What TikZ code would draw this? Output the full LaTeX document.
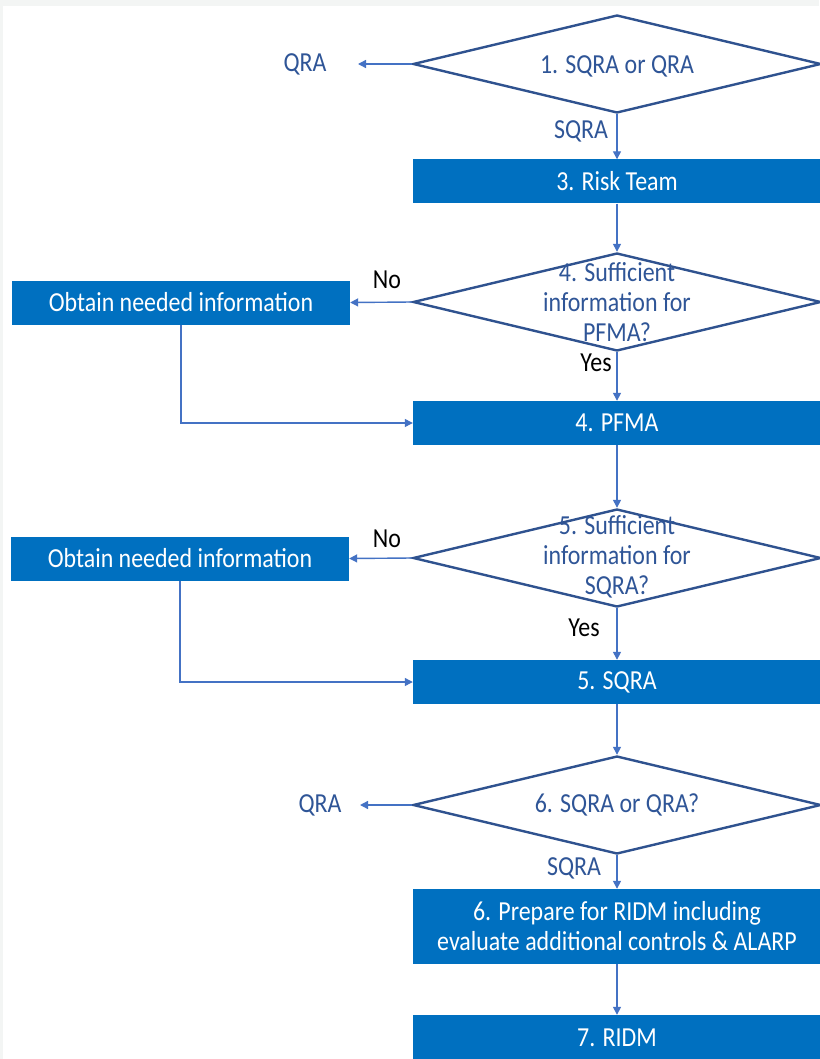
\documentclass[tikz,border=0pt]{standalone}
\usepackage{fontspec}
\setmainfont{Carlito}[FakeStretch=0.87]
\definecolor{main}{RGB}{0,112,192}
\definecolor{edge}{RGB}{47,82,143}
\definecolor{link}{RGB}{68,114,196}
\definecolor{ink}{RGB}{47,85,151}
\definecolor{frame}{RGB}{243,245,244}
\usetikzlibrary{
	arrows.meta,
	shapes.geometric
}
\newcommand{\fcfont}{\fontsize{27.5}{30}\selectfont}
\tikzset{
  % arrow
	fcra/.style      ={-{Triangle[length=8pt,width=8pt]}, draw=link, line width=1.4pt}, % right arrow
	fcline/.style    ={draw=link, line width=1.2pt},
  % node
	fcbox/.style     ={fill=main, text=white, minimum width=408pt, minimum height=44pt, inner sep=0pt, font=\fcfont},
	fcside/.style    ={fill=main, text=white, minimum width=338pt, minimum height=44pt, inner sep=0pt, font=\fcfont},
	fcdiam/.style    ={diamond, draw=edge, line width=2.4pt, fill=white, minimum width=408pt, minimum height=98pt, inner sep=0pt},
	fctext/.style    ={text=ink, align=center, font=\fcfont},
	fclabel/.style   ={text=ink, font=\fcfont},
	fcyn/.style      ={text=black, font=\fcfont}
}
\begin{document}
\begin{tikzpicture}[x=1pt,y=-1pt]
	\useasboundingbox (0,0) rectangle (819,1059);
	\fill[frame] (0,0) rectangle (819,1059);
	\fill[white] (3,6) rectangle (819,1059);
	% 1
	\node[fcdiam] (d1) at (617,64) {};
	\node[fctext] (d1txt) at (617,66) {1. SQRA or QRA};
	\node[fclabel] (qra1) at (305,64) {QRA};
	\coordinate (q1) at (358,64);
	\draw[fcra] (d1.west)--(q1);
	\node[fcbox] (risk) at (617,181.5) {3. Risk Team};
	\node[fclabel] (sqra1) at (581,131) {SQRA};
	\draw[fcra] (d1.south)--(risk.north);
	% 4
	\node[fcdiam] (d4) at (617,302) {};
	\node[fctext] (d4txt) at (617,302) {4. Sufficient\\information for\\PFMA?};
	\draw[fcra] (risk.south)--(d4.north);
	\node[fcside] (obt4) at (181,302.5) {Obtain needed information};
	\node[fcyn] (no4) at (387,280) {No};
	\draw[fcra] (d4.west)--(obt4.east);
	\node[fcbox] (pfma) at (617,423) {4. PFMA};
	\node[fcyn] (yes4) at (596,363) {Yes};
	\draw[fcra] (d4.south)--(pfma.north);
	\draw[fcline,-{Triangle[length=8pt,width=8pt]}] (obt4.south) |- (pfma.west);
	% 5
	\node[fcdiam] (d5) at (617,558) {};
	\node[fctext] (d5txt) at (617,557) {5. Sufficient\\information for\\SQRA?};
	\draw[fcra] (pfma.south)--(d5.north);
	\node[fcside] (obt5) at (180,558.5) {Obtain needed information};
	\node[fcyn] (no5) at (387,539) {No};
	\draw[fcra] (d5.west)--(obt5.east);
	\node[fcbox] (sqra) at (617,682) {5. SQRA};
	\node[fcyn] (yes5) at (584,628) {Yes};
	\draw[fcra] (d5.south)--(sqra.north);
	\draw[fcline,-{Triangle[length=8pt,width=8pt]}] (obt5.south) |- (sqra.west);
	% 6
	\node[fcdiam] (d6) at (617,805) {};
	\node[fctext] (d6txt) at (617,805) {6. SQRA or QRA?};
	\draw[fcra] (sqra.south)--(d6.north);
	\node[fclabel] (qra6) at (320,805) {QRA};
	\coordinate (q6) at (360,805);
	\draw[fcra] (d6.west)--(q6);
	\node[fcbox,minimum height=75pt,align=center] (prep) at (617,926.5) {6. Prepare for RIDM including\\evaluate additional controls \& ALARP};
	\node[fclabel] (sqra6) at (574,868) {SQRA};
	\draw[fcra] (d6.south)--(prep.north);
	% 7
	\node[fcbox,minimum height=46pt] (ridm) at (617,1038) {7. RIDM};
	\draw[fcra] (prep.south)--(ridm.north);
\end{tikzpicture}
\end{document}
